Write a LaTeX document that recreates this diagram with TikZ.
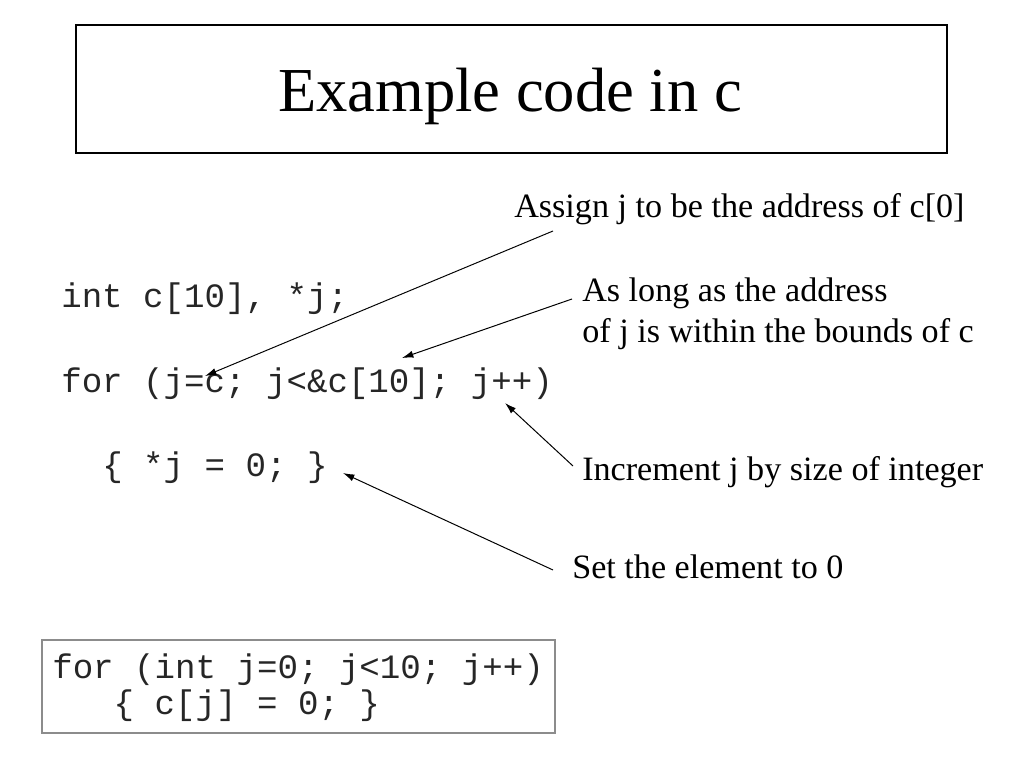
\documentclass[tikz,border=0pt]{standalone}
\usepackage{fontspec}
\setmainfont{Liberation Serif}
\newfontfamily\codefam{Liberation Mono}
\usetikzlibrary{arrows.meta}
\begin{document}
\begin{tikzpicture}[x=0.703125pt,y=-0.703125pt,
	every node/.style={inner sep=0pt,anchor=base west},
	code/.style={font=\codefam\fontsize{24}{28.8}\selectfont,text=black!85},
	note/.style={font=\fontsize{24}{28.8}\selectfont},
	pointer/.style={-{Latex[length=8pt,width=5pt]},line width=0.7pt}]
		\useasboundingbox (0,0) rectangle (1024,768);
		% title
		\draw[line width=0.8pt] (76,25) rectangle (947,153);
		\node[anchor=base,font=\fontsize{44}{52}\selectfont] (title) at (510,112) {Example code in c};
		% code
		\node[code] (decl) at (61,307) {int c[10], *j;};
		\node[code] (loop) at (61,392) {for (j=c; j<\&c[10]; j++)};
		\node[code] (body) at (61,476) {\ \ \{ *j = 0; \}};
		% notes
		\node[note] (assign) at (514,218) {Assign j to be the address of c[0]};
		\node[note,align=left,anchor=north west] (bound) at (582,278) {As long as the address\\of j is within the bounds of c};
		\node[note] (incr) at (582,480) {Increment j by size of integer};
		\node[note] (set) at (572,578) {Set the element to 0};
		\coordinate (a1) at (553,231); \coordinate (t1) at (205,376);
		\coordinate (a2) at (572,299); \coordinate (t2) at (402,358);
		\coordinate (a3) at (573,466); \coordinate (t3) at (505,403);
		\coordinate (a4) at (553,570); \coordinate (t4) at (343,473);
		\draw[pointer] (a1)--(t1);
		\draw[pointer] (a2)--(t2);
		\draw[pointer] (a3)--(t3);
		\draw[pointer] (a4)--(t4);
		% shorter form
		\draw[gray!110!black,line width=0.9pt] (42,640) rectangle (555,733);
		\node[code] (for2) at (52,678) {for (int j=0; j<10; j++)};
		\node[code] (body2) at (52,714) {\ \ \ \{ c[j] = 0; \}};
		\end{tikzpicture}
\end{document}
